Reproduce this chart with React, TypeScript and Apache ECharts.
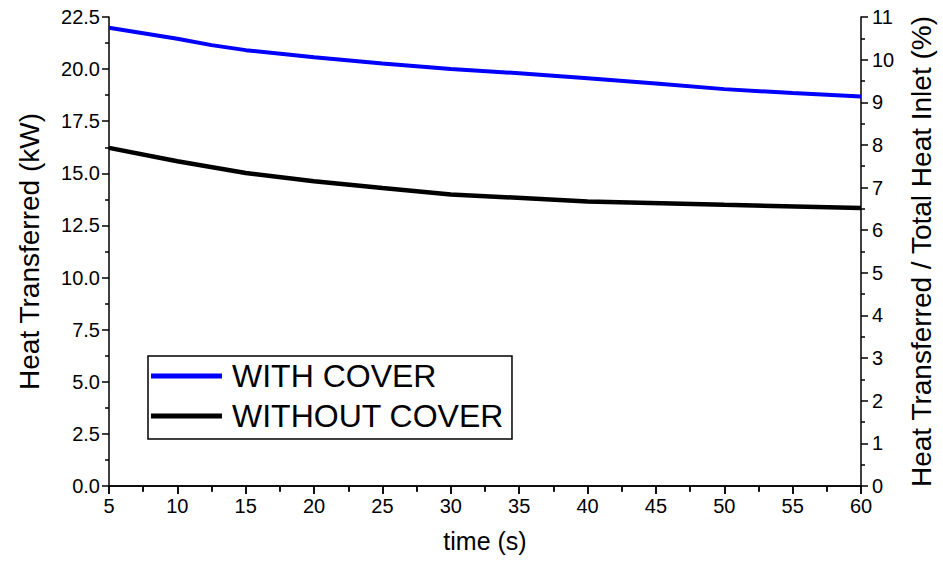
import React, { useEffect, useRef } from "react";
import * as echarts from "echarts";

const withCoverX = [5, 10, 12.5, 15, 20, 25, 30, 35, 40, 45, 50, 55, 60];
const withCoverY = [21.98, 21.46, 21.15, 20.91, 20.57, 20.27, 20.01, 19.8, 19.56, 19.31, 19.04, 18.85, 18.69];
const withoutCoverX = [5, 10, 15, 20, 25, 30, 40, 50, 60];
const withoutCoverY = [16.22, 15.58, 15.02, 14.62, 14.3, 13.99, 13.65, 13.49, 13.34];

const seriesNames = ["WITH COVER", "WITHOUT COVER"];
const xTitle = "time (s)";
const yLeftTitle = "Heat Transferred (kW)";
const yRightTitle = "Heat Transferred / Total Heat Inlet (%)";

const FONT = "'Liberation Sans', Arial, sans-serif";

export default function App() {
  const ref = useRef<HTMLDivElement>(null);
  useEffect(() => {
    if (!ref.current) return;
    const chart = echarts.init(ref.current, undefined, { renderer: "svg" });
    const axisLine = { show: true, lineStyle: { color: "#000", width: 1.5 } };
    const label = { color: "#000", fontSize: 20, fontFamily: FONT };
    chart.setOption({
      animation: false,
      backgroundColor: "#fff",
      grid: { left: 109, right: 75, top: 17, bottom: 78 },
      legend: {
        orient: "vertical",
        left: 148,
        top: 356,
        data: seriesNames,
        icon: "rect",
        itemWidth: 71,
        itemHeight: 5,
        itemGap: 4,
        padding: [2, 8, 5, 3],
        borderColor: "#000",
        borderWidth: 1.5,
        textStyle: { fontSize: 32, color: "#000", fontFamily: FONT, lineHeight: 36, padding: [0, 0, 0, 5] },
      },
      xAxis: [
        {
          type: "value",
          min: 5,
          max: 60,
          interval: 5,
          position: "bottom",
          name: xTitle,
          nameLocation: "middle",
          nameGap: 42,
          nameTextStyle: { color: "#000", fontSize: 25, fontFamily: FONT },
          axisLine,
          axisTick: { show: true, inside: false, length: 8, lineStyle: { color: "#000", width: 1.5 } },
          minorTick: { show: true, splitNumber: 2, length: 5, lineStyle: { color: "#000", width: 1.5 } },
          axisLabel: { ...label, margin: 10 },
          splitLine: { show: false },
        },
        {
          type: "value",
          min: 5,
          max: 60,
          interval: 5,
          position: "top",
          axisLine,
          axisTick: { show: true, inside: true, length: 8, lineStyle: { color: "#000", width: 1.5 } },
          minorTick: { show: true, splitNumber: 2, length: 6, lineStyle: { color: "#000", width: 1.5 } },
          axisLabel: { show: false },
          splitLine: { show: false },
        },
      ],
      yAxis: [
        {
          type: "value",
          min: 0,
          max: 22.5,
          interval: 2.5,
          position: "left",
          name: yLeftTitle,
          nameLocation: "middle",
          nameRotate: 90,
          nameGap: 66,
          nameTextStyle: { color: "#000", fontSize: 28, fontFamily: FONT },
          axisLine,
          axisTick: { show: true, inside: false, length: 7, lineStyle: { color: "#000", width: 1.5 } },
          minorTick: { show: true, splitNumber: 2, length: 4, lineStyle: { color: "#000", width: 1.5 } },
          axisLabel: { ...label, margin: 9, formatter: (v: number) => v.toFixed(1) },
          splitLine: { show: false },
        },
        {
          type: "value",
          min: 0,
          max: 11,
          interval: 1,
          position: "right",
          name: yRightTitle,
          nameLocation: "middle",
          nameRotate: 90,
          nameGap: 46,
          nameTextStyle: { color: "#000", fontSize: 28, fontFamily: FONT },
          axisLine,
          axisTick: { show: true, inside: false, length: 7, lineStyle: { color: "#000", width: 1.5 } },
          minorTick: { show: true, splitNumber: 2, length: 4, lineStyle: { color: "#000", width: 1.5 } },
          axisLabel: { ...label, margin: 11 },
          splitLine: { show: false },
        },
      ],
      series: [
        {
          name: seriesNames[0],
          type: "line",
          xAxisIndex: 0,
          yAxisIndex: 0,
          symbol: "none",
          color: "#0000ff",
          lineStyle: { color: "#0000ff", width: 4 },
          data: withCoverX.map((x, i) => [x, withCoverY[i]]),
        },
        {
          name: seriesNames[1],
          type: "line",
          xAxisIndex: 0,
          yAxisIndex: 0,
          symbol: "none",
          color: "#000000",
          lineStyle: { color: "#000000", width: 4.5 },
          data: withoutCoverX.map((x, i) => [x, withoutCoverY[i]]),
        },
      ],
    });
    return () => chart.dispose();
  }, []);
  return <div ref={ref} style={{ width: 943, height: 564, position: "fixed", left: 0, top: 0 }} />;
}
